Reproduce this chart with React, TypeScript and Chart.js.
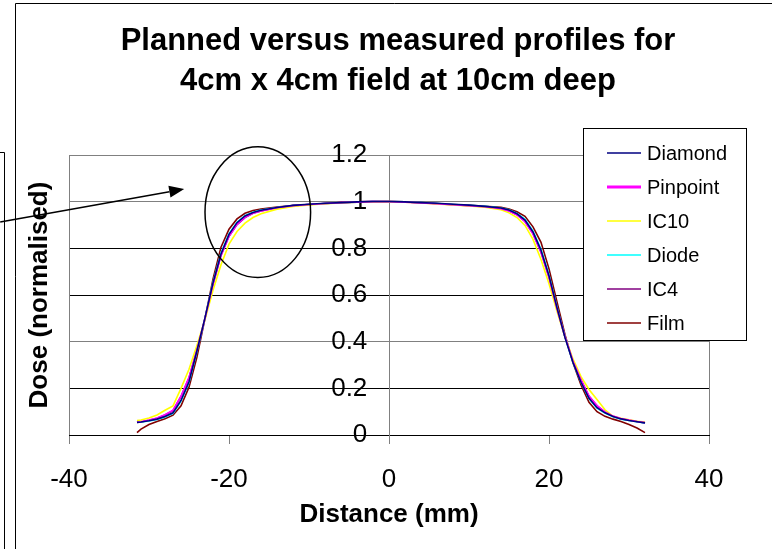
import React, { useEffect, useRef } from "react";
import { Chart, registerables } from "chart.js";

Chart.register(...registerables);

// ---------- data ----------
const distances = [
  -31.5, -31, -30, -29, -28, -27, -26, -25, -24, -23, -22, -21, -20, -19, -18, -17, -16,
  -14, -12, -10, -8, -6, -4, -2, 0, 2, 4, 6, 8, 10, 12, 14,
  15, 16, 17, 18, 19, 20, 21, 22, 23, 24, 25, 26, 27, 28, 29, 30, 31, 32,
];

const diamond = [
  0.054, 0.056, 0.061, 0.068, 0.079, 0.095, 0.148, 0.228, 0.362, 0.502, 0.652, 0.776, 0.860, 0.910, 0.939, 0.954, 0.963,
  0.975, 0.984, 0.989, 0.993, 0.996, 0.999, 1.001, 1.001, 0.999, 0.996, 0.993, 0.989, 0.985, 0.980, 0.973,
  0.964, 0.948, 0.921, 0.870, 0.792, 0.682, 0.545, 0.418, 0.311, 0.226, 0.157, 0.117, 0.095, 0.079, 0.069, 0.062, 0.057, 0.052,
];

const pinpoint = [
  0.055, 0.057, 0.064, 0.073, 0.087, 0.106, 0.166, 0.246, 0.366, 0.500, 0.646, 0.770, 0.852, 0.903, 0.933, 0.950, 0.960,
  0.974, 0.983, 0.988, 0.992, 0.996, 0.998, 1.000, 1.000, 0.998, 0.995, 0.991, 0.987, 0.983, 0.978, 0.970,
  0.960, 0.943, 0.914, 0.862, 0.783, 0.675, 0.541, 0.421, 0.316, 0.236, 0.167, 0.126, 0.099, 0.081, 0.071, 0.064, 0.058, 0.053,
];

const ic10 = [
  0.062, 0.064, 0.073, 0.086, 0.106, 0.125, 0.200, 0.282, 0.385, 0.495, 0.620, 0.730, 0.818, 0.872, 0.908, 0.932, 0.948,
  0.968, 0.979, 0.986, 0.991, 0.995, 0.998, 0.999, 1.000, 0.998, 0.995, 0.990, 0.986, 0.982, 0.976, 0.965,
  0.952, 0.932, 0.898, 0.838, 0.752, 0.648, 0.530, 0.420, 0.325, 0.250, 0.195, 0.152, 0.108, 0.080, 0.072, 0.065, 0.059, 0.055,
];

const diode = [
  0.055, 0.056, 0.060, 0.067, 0.077, 0.093, 0.145, 0.225, 0.360, 0.500, 0.655, 0.780, 0.862, 0.912, 0.940, 0.955, 0.964,
  0.975, 0.983, 0.988, 0.992, 0.995, 0.998, 1.000, 1.000, 0.999, 0.996, 0.992, 0.988, 0.984, 0.980, 0.973,
  0.965, 0.950, 0.924, 0.874, 0.796, 0.686, 0.548, 0.420, 0.312, 0.226, 0.156, 0.115, 0.094, 0.078, 0.068, 0.062, 0.057, 0.052,
];

const ic4 = [
  0.054, 0.056, 0.063, 0.072, 0.086, 0.104, 0.165, 0.245, 0.365, 0.500, 0.645, 0.770, 0.852, 0.902, 0.932, 0.950, 0.960,
  0.974, 0.983, 0.988, 0.992, 0.996, 0.999, 1.000, 1.000, 0.999, 0.996, 0.991, 0.987, 0.983, 0.978, 0.970,
  0.961, 0.944, 0.915, 0.863, 0.783, 0.676, 0.541, 0.420, 0.316, 0.236, 0.166, 0.125, 0.098, 0.080, 0.070, 0.063, 0.058, 0.052,
];

const film = [
  0.010, 0.025, 0.045, 0.058, 0.070, 0.085, 0.125, 0.205, 0.335, 0.500, 0.668, 0.805, 0.882, 0.926, 0.950, 0.962, 0.968,
  0.977, 0.983, 0.988, 0.992, 0.996, 0.999, 1.000, 1.000, 0.999, 0.996, 0.992, 0.988, 0.984, 0.980, 0.976,
  0.969, 0.957, 0.937, 0.892, 0.826, 0.712, 0.570, 0.430, 0.310, 0.214, 0.140, 0.100, 0.080, 0.068, 0.058, 0.045, 0.030, 0.010,
];

const seriesNames = ["Diamond", "Pinpoint", "IC10", "Diode", "IC4", "Film"];
const seriesColors = ["#000080", "#FF00FF", "#FFFF00", "#00FFFF", "#800080", "#800000"];
const legendLineWidths = [1.5, 3, 1.5, 1.5, 1.5, 1.5];

const xTickValues = [-40, -20, 0, 20, 40];
const yTickValues = [0, 0.2, 0.4, 0.6, 0.8, 1, 1.2];
const yTickLabels = ["0", "0.2", "0.4", "0.6", "0.8", "1", "1.2"];

const titleLines = ["Planned versus measured profiles for", "4cm x 4cm field at 10cm deep"];
const xTitle = "Distance (mm)";
const yTitle = "Dose (normalised)";

// annotation (data coordinates): highlighted shoulder region and pointing arrow
const ellipseCenter = [-16.4, 0.955];
const ellipseRadii = [6.6, 0.28];
const arrowFrom = [-48.6, 0.913];
const arrowTo = [-25.6, 1.054];

const FONT = "'Liberation Sans', Arial, Helvetica, sans-serif";

export default function App() {
  const ref = useRef<HTMLCanvasElement | null>(null);

  useEffect(() => {
    const canvas = ref.current;
    if (!canvas) return;
    const series = [diamond, pinpoint, ic10, diode, ic4, film];

    const datasets = seriesNames.map((name, i) => ({
      label: name,
      data: distances.map((x, j) => ({ x, y: series[i][j] })),
      borderColor: seriesColors[i],
      backgroundColor: seriesColors[i],
      borderWidth: 1.6,
      pointRadius: 0,
      pointHoverRadius: 0,
      fill: false,
      tension: 0,
      xAxisID: "x",
      yAxisID: "y",
    }));

    const decor = {
      id: "decor",
      beforeDraw(chart: any) {
        const c = chart.ctx;
        c.save();
        c.fillStyle = "#ffffff";
        c.fillRect(0, 0, chart.width, chart.height);
        c.restore();
      },
      afterDraw(chart: any) {
        const c = chart.ctx;
        const { left, right, top, bottom } = chart.chartArea;
        const xs = chart.scales.x;
        const ys = chart.scales.y;
        c.save();

        // plot-area side borders (grey)
        c.strokeStyle = "#808080";
        c.lineWidth = 1;
        c.beginPath();
        const lx = Math.round(left) + 0.5;
        const rx = Math.round(right) + 0.5;
        c.moveTo(lx, top);
        c.lineTo(lx, bottom);
        c.moveTo(rx, top);
        c.lineTo(rx, bottom);
        c.stroke();

        // ellipse annotation
        const ecx = xs.getPixelForValue(ellipseCenter[0]);
        const ecy = ys.getPixelForValue(ellipseCenter[1]);
        const erx = Math.abs(xs.getPixelForValue(ellipseCenter[0] + ellipseRadii[0]) - ecx);
        const ery = Math.abs(ys.getPixelForValue(ellipseCenter[1] + ellipseRadii[1]) - ecy);
        c.strokeStyle = "#000";
        c.lineWidth = 1.5;
        c.beginPath();
        c.ellipse(ecx, ecy, erx, ery, 0, 0, Math.PI * 2);
        c.stroke();

        // arrow
        const ax0 = xs.getPixelForValue(arrowFrom[0]);
        const ay0 = ys.getPixelForValue(arrowFrom[1]);
        const ax1 = xs.getPixelForValue(arrowTo[0]);
        const ay1 = ys.getPixelForValue(arrowTo[1]);
        const ang = Math.atan2(ay1 - ay0, ax1 - ax0);
        const headLen = 15;
        const headHalf = 6;
        const bx = ax1 - headLen * Math.cos(ang);
        const by = ay1 - headLen * Math.sin(ang);
        c.beginPath();
        c.moveTo(ax0, ay0);
        c.lineTo(bx, by);
        c.stroke();
        c.fillStyle = "#000";
        c.beginPath();
        c.moveTo(ax1, ay1);
        c.lineTo(bx + headHalf * Math.sin(ang), by - headHalf * Math.cos(ang));
        c.lineTo(bx - headHalf * Math.sin(ang), by + headHalf * Math.cos(ang));
        c.closePath();
        c.fill();

        // legend box
        const lgL = 583.5, lgT = 128.5, lgW = 163, lgH = 212;
        c.fillStyle = "#fff";
        c.fillRect(lgL, lgT, lgW, lgH);
        c.strokeStyle = "#000";
        c.lineWidth = 1;
        c.strokeRect(lgL, lgT, lgW, lgH);
        c.font = `20px ${FONT}`;
        c.textBaseline = "middle";
        c.textAlign = "left";
        chart.data.datasets.forEach((ds: any, i: number) => {
          const yy = 153 + i * 34;
          c.strokeStyle = ds.borderColor;
          c.lineWidth = legendLineWidths[i];
          c.beginPath();
          c.moveTo(607, yy);
          c.lineTo(641, yy);
          c.stroke();
          c.fillStyle = "#000";
          c.fillText(ds.label, 647, yy + 1);
        });

        // outer frames
        c.strokeStyle = "#000";
        c.lineWidth = 1;
        c.beginPath();
        c.moveTo(15.5, chart.height + 2);
        c.lineTo(15.5, 3.5);
        c.lineTo(chart.width + 2, 3.5);
        c.stroke();
        c.beginPath();
        c.moveTo(0, 152.5);
        c.lineTo(4.5, 152.5);
        c.lineTo(4.5, chart.height + 2);
        c.stroke();

        c.restore();
      },
    };

    const chart = new Chart(canvas, {
      type: "line",
      data: { datasets },
      options: {
        responsive: false,
        maintainAspectRatio: false,
        animation: false,
        devicePixelRatio: 1,
        events: [],
        layout: { padding: { left: 24, right: 0, top: 0, bottom: 0 } },
        plugins: {
          legend: { display: false },
          tooltip: { enabled: false },
          title: {
            display: true,
            text: titleLines,
            color: "#000",
            font: { family: FONT, size: 31, weight: "bold", lineHeight: 1.3 },
            padding: { top: 21, bottom: 53.4 },
          },
        },
        scales: {
          x: {
            type: "linear",
            position: "bottom",
            min: -40,
            max: 40,
            afterBuildTicks: (s: any) => {
              s.ticks = xTickValues.map((v) => ({ value: v }));
            },
            afterFit: (s: any) => {
              s.height = 114;
            },
            grid: { drawOnChartArea: false, drawTicks: true, tickLength: 9, color: "#808080" },
            border: { display: true, color: "#000", width: 1 },
            ticks: {
              color: "#000",
              font: { family: FONT, size: 26 },
              padding: 20,
              maxRotation: 0,
              autoSkip: false,
              callback: (v: any) => String(v),
            },
            title: {
              display: true,
              text: xTitle,
              color: "#000",
              font: { family: FONT, size: 26, weight: "bold" },
              padding: { top: 0, bottom: 19 },
            },
          },
          y: {
            type: "linear",
            position: { x: 0 },
            min: 0,
            max: 1.2,
            afterBuildTicks: (s: any) => {
              s.ticks = yTickValues.map((v) => ({ value: v }));
            },
            grid: {
              color: (ctx: any) => {
                const v = ctx.tick ? ctx.tick.value : 0;
                return v > 0.95 || Math.abs(v - 0.4) < 0.01 ? "#808080" : "#000";
              },
              tickLength: 7,
            },
            border: { display: true, color: "#808080", width: 1 },
            ticks: {
              color: "#000",
              font: { family: FONT, size: 26 },
              padding: 15,
              autoSkip: false,
              // trailing spaces keep the right-aligned labels clear of the tick marks
              callback: (v: any) => {
                const idx = yTickValues.findIndex((t) => Math.abs(t - v) < 1e-6);
                return idx >= 0 ? yTickLabels[idx] + "   " : "";
              },
            },
          },
          yTitle: {
            type: "linear",
            position: "left",
            min: 0,
            max: 1.2,
            afterFit: (s: any) => {
              s.width = 45;
            },
            ticks: { display: false },
            grid: { display: false, drawTicks: false },
            border: { display: false },
            title: {
              display: true,
              text: yTitle,
              color: "#000",
              font: { family: FONT, size: 26, weight: "bold" },
              padding: { top: 0, bottom: 0 },
            },
          },
          yRight: {
            type: "linear",
            position: "right",
            min: 0,
            max: 1.2,
            afterFit: (s: any) => {
              s.width = 63;
            },
            ticks: { display: false },
            grid: { display: false, drawTicks: false },
            border: { display: false },
          },
        },
      } as any,
      plugins: [decor],
    });

    return () => chart.destroy();
  }, []);

  return (
    <div style={{ position: "fixed", left: 0, top: 0, width: 772, height: 549, background: "#fff" }}>
      <canvas ref={ref} width={772} height={549} style={{ display: "block", width: 772, height: 549 }} />
    </div>
  );
}
